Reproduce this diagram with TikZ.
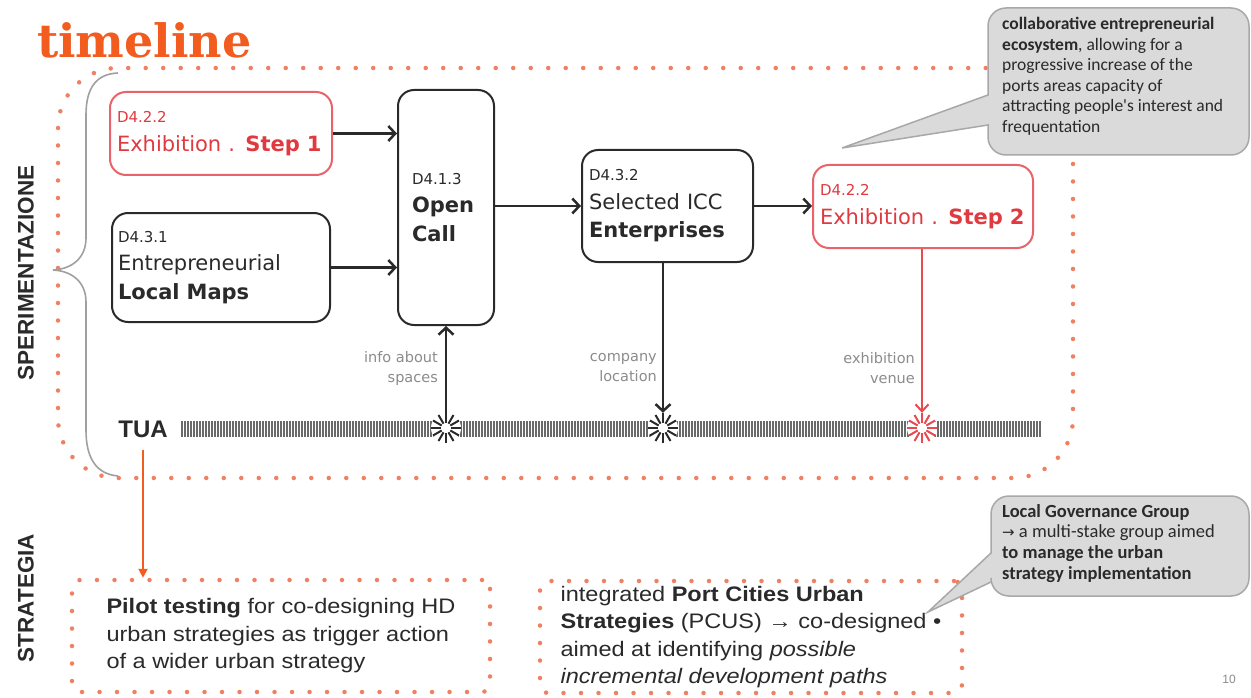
\documentclass[tikz,border=0pt]{standalone}
\usepackage{fontspec}
\setmainfont{Liberation Sans}
\newfontfamily\boxfont{DejaVu Sans}
\newfontfamily\calfont{Carlito}
\newfontfamily\titlefont{DejaVu Serif}
\newfontfamily\symfont{DejaVu Sans}
\newfontfamily\widefont[FakeStretch=1.12]{Liberation Sans}
\usetikzlibrary{arrows.meta}
\definecolor{tlorange}{HTML}{F25C1F}
\definecolor{dotorange}{HTML}{F08062}
\definecolor{boxred}{HTML}{E6646A}
\definecolor{txtred}{HTML}{E03A40}
\definecolor{dark}{HTML}{2A2A2A}
\definecolor{callgray}{HTML}{DADADA}
\definecolor{callborder}{HTML}{A8A8A8}
\definecolor{lblgray}{HTML}{8C8C8C}
\definecolor{bracegray}{HTML}{A0A0A0}
\definecolor{barcol}{HTML}{6A6A6A}
\definecolor{starred}{HTML}{E84A50}
\begin{document}
\begin{tikzpicture}[x=1pt,y=-1pt,
  rbox/.style={draw=dark, line width=2pt, rounded corners=16pt, align=left, inner sep=0pt,
    font=\boxfont\fontsize{21}{28.5}\selectfont, text=dark},
  redbox/.style={rbox, draw=boxred, text=txtred},
  arr/.style={draw=dark, line width=2.5pt, -{Straight Barb[length=7pt,width=15pt]}},
  redarr/.style={draw=starred, line width=2pt, -{Straight Barb[length=7pt,width=13pt]}},
  oarr/.style={draw=tlorange, line width=2pt, -{Triangle[length=9pt,width=9pt]}},
  dotline/.style={draw=dotorange, line width=4.5pt, dash pattern=on 0pt off 17.5pt, line cap=round},
  dotbox/.style={dotline, rounded corners=8pt, align=left, inner sep=0pt,
    font=\widefont\fontsize{21}{27.5}\selectfont, text=dark},
  lbl/.style={align=right, inner sep=0pt, font=\boxfont\fontsize{14.5}{20}\selectfont, text=lblgray},
  callout/.style={fill=callgray, draw=callborder, line width=1.5pt},
  calltext/.style={align=left, inner sep=0pt, text=dark},
  side/.style={rotate=90, inner sep=0pt, font=\bfseries\fontsize{22.5}{22.5}\selectfont, text=dark},
  starnode/.style={circle, minimum size=30pt, inner sep=0pt}
]
\useasboundingbox (0,0) rectangle (1251,698);
\fill[white] (0,0) rectangle (1251,698);

% title
\node[anchor=base west, inner sep=0pt, text=tlorange, font=\titlefont\bfseries\fontsize{46}{46}\selectfont] (title) at (37,58) {timeline};

% big dotted region
\draw[dotline, rounded corners=60pt] (58,68) rectangle (1073,478);

% brace
\draw[bracegray, line width=1.6pt] (118,73) .. controls (96,74) and (86,88) .. (86,115) -- (86,238)
  .. controls (86,258) and (72,269) .. (53,270) .. controls (72,271) and (86,282) .. (86,302)
  -- (86,430) .. controls (86,458) and (96,474) .. (118,476);

% side labels
\node[side] (sper) at (26,273) {SPERIMENTAZIONE};
\node[side] (strat) at (26,598) {STRATEGIA};

% boxes
\node[redbox, minimum width=222pt, minimum height=83pt, text width=208pt] (step1) at (221,133.5)
  {{\fontsize{15}{15}\selectfont D4.2.2}\\Exhibition . \textbf{Step 1}};
\node[rbox, minimum width=218pt, minimum height=109pt, text width=206pt] (maps) at (221,267.5)
  {{\fontsize{15}{15}\selectfont D4.3.1}\\Entrepreneurial\\\textbf{Local Maps}};
\node[rbox, minimum width=96pt, minimum height=235pt, text width=68pt] (open) at (446,207.5)
  {{\fontsize{15}{15}\selectfont D4.1.3}\\\textbf{Open}\\\textbf{Call}};
\node[rbox, minimum width=171pt, minimum height=112pt, text width=157pt] (sel) at (667.5,206)
  {{\fontsize{15}{15}\selectfont D4.3.2}\\Selected ICC\\\textbf{Enterprises}};
\node[redbox, minimum width=220pt, minimum height=83pt, text width=206pt] (step2) at (923,206.5)
  {{\fontsize{15}{15}\selectfont D4.2.2}\\Exhibition . \textbf{Step 2}};

% horizontal arrows
\draw[arr] (step1.east) -- (open.west |- step1.east);
\draw[arr] (maps.east) -- (open.west |- maps.east);
\draw[arr] (open.east |- sel.west) -- (sel.west);
\draw[arr] (sel.east) -- (step2.west |- sel.east);

% TUA timeline bar
\node[inner sep=0pt, font=\bfseries\fontsize{24}{24}\selectfont, text=dark] (tua) at (143,429) {TUA};
\foreach \x in {182,185,...,1040} \draw[barcol, line width=1.2pt] (\x,421) -- (\x,437);

\node[starnode] (s1) at (446,428) {};
\node[starnode] (s2) at (663,428) {};
\node[starnode] (s3) at (922,428) {};
\foreach \s/\c in {s1/dark, s2/dark, s3/starred} {
  \fill[white] (\s) circle[radius=15pt];
  \foreach \a in {0,30,...,330}
    \draw[\c, line width=2pt, shift={(\s)}] (\a:5) -- (\a:15);
}

% vertical arrows
\draw[arr] (s1.north) -- (open.south -| s1);
\draw[arr] (sel.south -| s2) -- (s2.north);
\draw[redarr] (step2.south -| s3) -- (s3.north);

% arrow labels
\node[lbl, anchor=east] (l1) at (438,368) {info about\\spaces};
\node[lbl, anchor=east] (l2) at (657,368) {company\\location};
\node[lbl, anchor=east] (l3) at (915,368) {exhibition\\venue};

% bottom boxes
\node[dotbox, minimum width=418pt, minimum height=112pt] (pilot) at (281,636)
  {\textbf{Pilot testing} for co-designing HD\\urban strategies as trigger action\\of a wider urban strategy};
\node[dotbox, minimum width=422pt, minimum height=112pt] (pcus) at (751,637)
  {integrated \textbf{Port Cities Urban}\\\textbf{Strategies} (PCUS) → co-designed •\\aimed at identifying \textit{possible}\\\textit{incremental development paths}};

% TUA to pilot
\draw[oarr, shorten <=12pt] (tua.south) -- (pilot.north -| tua.south);

% callouts
\draw[callout] (842,148) -- (988,95) [rounded corners=18pt] -- (988,8) -- (1249,8) -- (1249,155) -- (988,155) [sharp corners] -- (988,125) -- cycle;
\node[calltext, anchor=north west, font=\calfont\fontsize{17.5}{20.5}\selectfont] (ctop) at (1002,17)
  {\textbf{collaborative entrepreneurial}\\\textbf{ecosystem}, allowing for a\\progressive increase of the\\ports areas capacity of\\attracting people's interest and\\frequentation};

\draw[callout] (928,612) -- (991,553) [rounded corners=18pt] -- (991,496) -- (1249,496) -- (1249,596) -- (991,596) [sharp corners] -- (991,582) -- cycle;
\node[calltext, anchor=north west, font=\calfont\fontsize{18.5}{20.7}\selectfont] (cbot) at (1002,504)
  {\textbf{Local Governance Group}\\{\symfont\fontsize{15}{15}\selectfont →} a multi-stake group aimed\\\textbf{to manage the urban}\\\textbf{strategy implementation}};

\node[inner sep=0pt, text=lblgray, font=\fontsize{12}{12}\selectfont] (pg) at (1229,679) {10};
\end{tikzpicture}
\end{document}
